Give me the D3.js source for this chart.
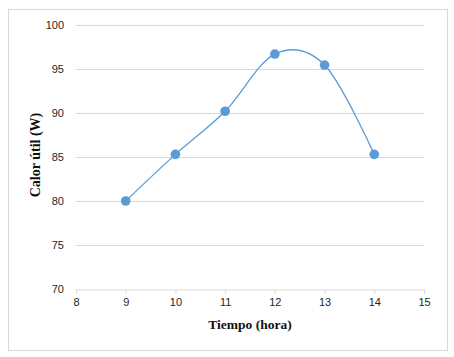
<!DOCTYPE html>
<html><head><meta charset="utf-8">
<script src="https://cdn.jsdelivr.net/npm/d3@7"></script>
<style>body{margin:0;background:#fff}svg{display:block}</style>
</head><body>
<script>
const hours = [9, 10, 11, 12, 13, 14];
const calorUtil = [80.0, 85.3, 90.2, 96.7, 95.45, 85.3];
const xTicks = [8, 9, 10, 11, 12, 13, 14, 15];
const yTicks = [70, 75, 80, 85, 90, 95, 100];
const xTitle = "Tiempo (hora)";
const yTitle = "Calor útil (W)";

const W = 454, H = 357;
const svg = d3.select("body").append("svg").attr("width", W).attr("height", H);

svg.append("rect").attr("x", 8.5).attr("y", 9.5).attr("width", 439).attr("height", 341)
  .attr("fill", "#fff").attr("stroke", "#d9d9d9").attr("stroke-width", 1);

const x = d3.scaleLinear().domain([8, 15]).range([76, 424]);
const y = d3.scaleLinear().domain([70, 100]).range([289, 25]);

// gridlines
svg.append("g").selectAll("line").data(yTicks.filter(d => d > 70)).join("line")
  .attr("x1", x(8)).attr("x2", x(15))
  .attr("y1", d => Math.round(y(d)) + 0.5).attr("y2", d => Math.round(y(d)) + 0.5)
  .attr("stroke", "#d9d9d9").attr("stroke-width", 1);

// y axis labels
const yAxis = d3.axisLeft(y).tickValues(yTicks).tickFormat(d3.format("d")).tickSize(0).tickPadding(12);
const gy = svg.append("g").attr("transform", `translate(${x(8)},0)`).call(yAxis);
gy.select(".domain").remove();
gy.selectAll("text").attr("font-family", "Liberation Sans, Arial, sans-serif")
  .attr("font-size", 11).attr("fill", "#262626");

// x axis
const xAxis = d3.axisBottom(x).tickValues(xTicks).tickFormat(d3.format("d")).tickSize(4).tickPadding(5);
const gx = svg.append("g").attr("transform", `translate(0,${Math.round(y(70)) + 0.5})`).call(xAxis);
gx.select(".domain").attr("stroke", "#d9d9d9");
gx.selectAll(".tick line").attr("stroke", "#d9d9d9");
gx.selectAll("text").attr("font-family", "Liberation Sans, Arial, sans-serif")
  .attr("font-size", 11).attr("fill", "#262626");

// line
const pts = hours.map((h, i) => [h, calorUtil[i]]);
const line = d3.line().x(d => x(d[0])).y(d => y(d[1])).curve(d3.curveCardinal.tension(0));
svg.append("path").datum(pts).attr("d", line).attr("fill", "none")
  .attr("stroke", "#5b9bd5").attr("stroke-width", 1.3);

svg.append("g").selectAll("circle").data(pts).join("circle")
  .attr("cx", d => x(d[0])).attr("cy", d => y(d[1])).attr("r", 4.8)
  .attr("fill", "#5b9bd5");

// titles
svg.append("text").attr("x", 250).attr("y", 329).attr("text-anchor", "middle")
  .attr("font-family", "Liberation Serif, Times New Roman, serif").attr("font-weight", "bold")
  .attr("font-size", 13.5).attr("fill", "#111").text(xTitle);

svg.append("text").attr("transform", "translate(40,155) rotate(-90)").attr("text-anchor", "middle")
  .attr("font-family", "Liberation Serif, Times New Roman, serif").attr("font-weight", "bold")
  .attr("font-size", 14).attr("fill", "#111").text(yTitle);
</script>
</body></html>
